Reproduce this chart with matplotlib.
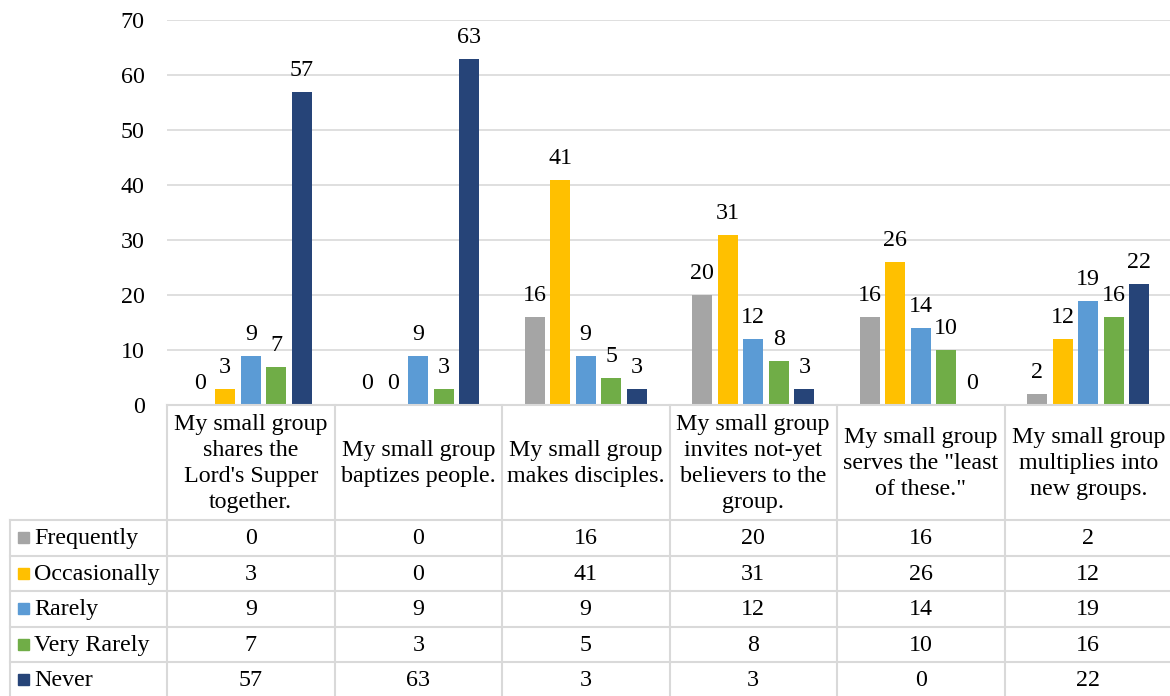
import numpy as np
import matplotlib
matplotlib.use('Agg')
import matplotlib.pyplot as plt

plt.rcParams['font.family'] = ['Liberation Serif', 'DejaVu Serif']

categories = ["My small group\nshares the\nLord's Supper\ntogether.",
              "My small group\nbaptizes people.",
              "My small group\nmakes disciples.",
              "My small group\ninvites not-yet\nbelievers to the\ngroup.",
              "My small group\nserves the \"least\nof these.\"",
              "My small group\nmultiplies into\nnew groups."]
series = ['Frequently', 'Occasionally', 'Rarely', 'Very Rarely', 'Never']
frequently = [0, 0, 16, 20, 16, 2]
occasionally = [3, 0, 41, 31, 26, 12]
rarely = [9, 9, 9, 12, 14, 19]
very_rarely = [7, 3, 5, 8, 10, 16]
never = [57, 63, 3, 3, 0, 22]
colors = ['#A5A5A5', '#FFC000', '#5B9BD5', '#70AD47', '#264478']
values = [frequently, occasionally, rarely, very_rarely, never]

W, H = 1170, 696
fig = plt.figure(figsize=(W / 100, H / 100), dpi=100)

# pixel layout
x0, x1 = 167, 1172
y_top, y_base = 20, 405
col_w = (x1 - x0) / len(categories)
grid_c = '#D9D9D9'
fs = 17.3

ax = fig.add_axes([x0 / W, (H - y_base) / H, (x1 - x0) / W, (y_base - y_top) / H])
ax.set_xlim(-0.5, len(categories) - 0.5)
ax.set_ylim(0, 70)
ax.set_yticks(range(0, 71, 10))
ax.tick_params(axis='y', length=0, pad=16, labelsize=fs)
ax.set_xticks([])
ax.yaxis.grid(True, color=grid_c, linewidth=1.2)
ax.set_axisbelow(True)
for s in ['top', 'right', 'left', 'bottom']:
    ax.spines[s].set_visible(False)

step = 25.5 / col_w
bw = 20 / col_w
x = np.arange(len(categories))
for i, (name, vals) in enumerate(zip(series, values)):
    pos = x + (i - 2) * step
    ax.bar(pos, vals, width=bw, color=colors[i], label=name, zorder=2)
    for p, v in zip(pos, vals):
        ax.annotate(str(v), (p, v), xytext=(0, 11.5), textcoords='offset points',
                    ha='center', va='baseline', fontsize=fs)

# data table below the chart
axt = fig.add_axes([0, 0, 1, (H - y_base) / H])
axt.set_xlim(0, W)
axt.set_ylim(H, y_base)
axt.axis('off')

hdr_bot = 520
row_h = 35.5
leg_x = 10
lw = 1.5
rows_y = [hdr_bot + k * row_h for k in range(len(series) + 1)]

axt.plot([x0, W], [y_base, y_base], color=grid_c, lw=lw, clip_on=False)
for k in range(len(categories) + 1):
    xx = x0 + k * col_w
    axt.plot([xx, xx], [y_base, H], color=grid_c, lw=lw, clip_on=False)
axt.plot([leg_x, leg_x], [hdr_bot, H], color=grid_c, lw=lw, clip_on=False)
for yy in rows_y:
    axt.plot([leg_x, W], [yy, yy], color=grid_c, lw=lw, clip_on=False)

for j, cat in enumerate(categories):
    axt.text(x0 + (j + 0.5) * col_w, (y_base + hdr_bot) / 2 + 1, cat,
             ha='center', va='center', fontsize=fs, linespacing=1.3)

for i, (name, vals) in enumerate(zip(series, values)):
    yc = rows_y[i] + row_h / 2
    axt.add_patch(plt.Rectangle((18, yc - 5.5), 11, 11, color=colors[i]))
    axt.text(34, yc + 1, name, ha='left', va='center', fontsize=fs)
    for j, v in enumerate(vals):
        axt.text(x0 + (j + 0.5) * col_w, yc + 1, str(v), ha='center',
                 va='center', fontsize=fs)

fig.savefig('out.png', dpi=100)
